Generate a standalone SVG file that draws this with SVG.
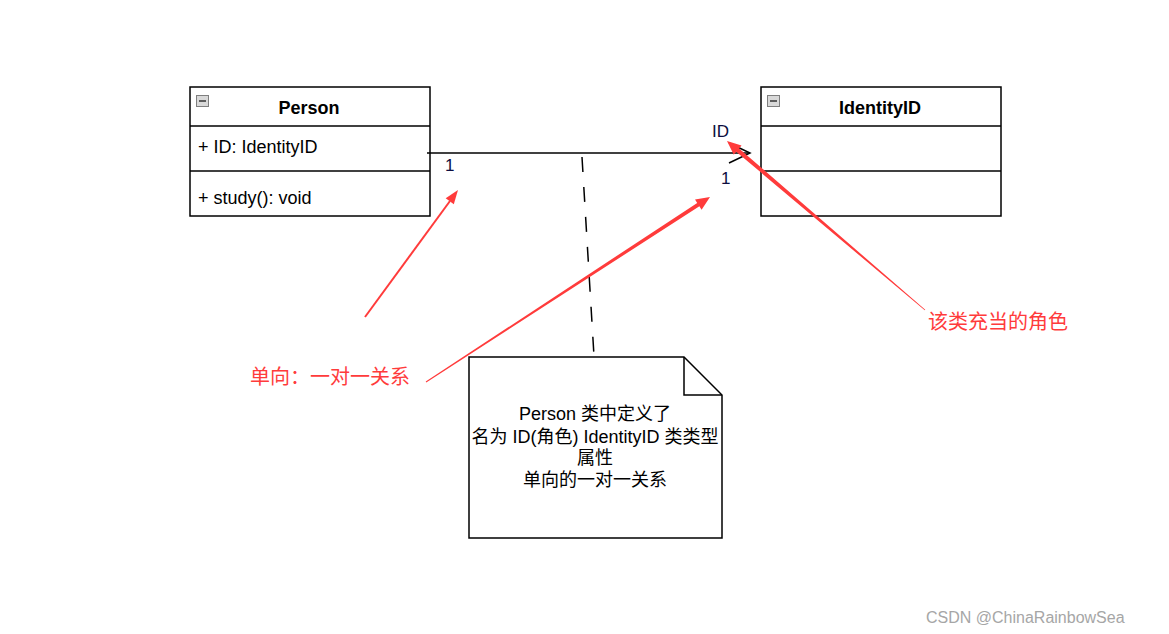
<svg xmlns="http://www.w3.org/2000/svg" width="1169" height="634" viewBox="0 0 1169 634">
<style>
text{font-family:"Liberation Sans","Noto Sans CJK SC",sans-serif;font-size:18px;fill:#000}
.box{fill:#fff;stroke:#000;stroke-width:1.5}
.div{stroke:#000;stroke-width:1.5}
.hdr{font-weight:bold;text-anchor:middle}
.icon{fill:#d9d9d9;stroke:#7f7f7f;stroke-width:1}
.minus{stroke:#333;stroke-width:1.5}
.lbl{fill:#0d0d40;font-size:17px}
.red{fill:#ff3b3b;font-size:20px}
.redf{fill:#ff3b3b}
.mid{text-anchor:middle}
</style>
<rect width="1169" height="634" fill="#fff"/>
<g id="person">
<rect class="box" x="190" y="87" width="240" height="129"/>
<line class="div" x1="190" y1="126" x2="430" y2="126"/>
<line class="div" x1="190" y1="171" x2="430" y2="171"/>
<rect class="icon" x="196.5" y="95.5" width="12" height="11"/>
<line class="minus" x1="199" y1="101" x2="206" y2="101"/>
<text class="hdr" x="309" y="114">Person</text>
<text x="198" y="153">+ ID: IdentityID</text>
<text x="198" y="204">+ study(): void</text>
</g>
<g id="identity">
<rect class="box" x="761" y="87" width="240" height="129"/>
<line class="div" x1="761" y1="126" x2="1001" y2="126"/>
<line class="div" x1="761" y1="171" x2="1001" y2="171"/>
<rect class="icon" x="767.5" y="95.5" width="12" height="11"/>
<line class="minus" x1="770" y1="101" x2="777" y2="101"/>
<text class="hdr" x="880" y="114">IdentityID</text>
</g>
<g id="note">
<path d="M469 357 H684 L722 395 V538 H469 Z" fill="#fff" stroke="#000" stroke-width="1.5"/>
<path d="M684 357 V395 H722" fill="none" stroke="#000" stroke-width="1.5"/>
<text class="mid" x="595" y="420">Person 类中定义了</text>
<text class="mid" x="595" y="443">名为 ID(角色) IdentityID 类类型</text>
<text class="mid" x="595" y="464">属性</text>
<text class="mid" x="595" y="486">单向的一对一关系</text>
</g>
<g id="connectors">
<line x1="427" y1="153" x2="750" y2="153" stroke="#000" stroke-width="1.5"/>
<path d="M729 143 L750 153 L729 163" fill="none" stroke="#000" stroke-width="1.5"/>
<line x1="582" y1="157" x2="594" y2="356" stroke="#000" stroke-width="1.5" stroke-dasharray="15 15"/>
<g id="red-arrows" class="redf">
<line x1="365" y1="317" x2="450" y2="201" stroke="#ff3b3b" stroke-width="2"/>
<polygon points="458,190 453.8,204.3 445.7,198.3"/>
<polygon points="425.73,381.58 697.21,202.92 695.02,199.57 710,197 701.58,209.63 699.39,206.28 426.27,382.42"/>
<polygon points="925.26,309.70 739.08,148.42 741.54,145.52 727,141 733.76,154.66 736.22,151.76 924.74,310.30"/>
</g>
</g>
<g id="assoc-labels">
<text class="lbl" x="445" y="171">1</text>
<text class="lbl" x="721" y="184">1</text>
<text class="lbl" x="712" y="137">ID</text>
</g>
<g id="annot-left"><text class="red" x="250" y="384">单向：一对一关系</text></g>
<g id="annot-right"><text class="red" x="928" y="329">该类充当的角色</text></g>
<g id="watermark"><text x="926" y="623" style="fill:#a6a6a6;font-size:16px">CSDN @ChinaRainbowSea</text></g>
</svg>
